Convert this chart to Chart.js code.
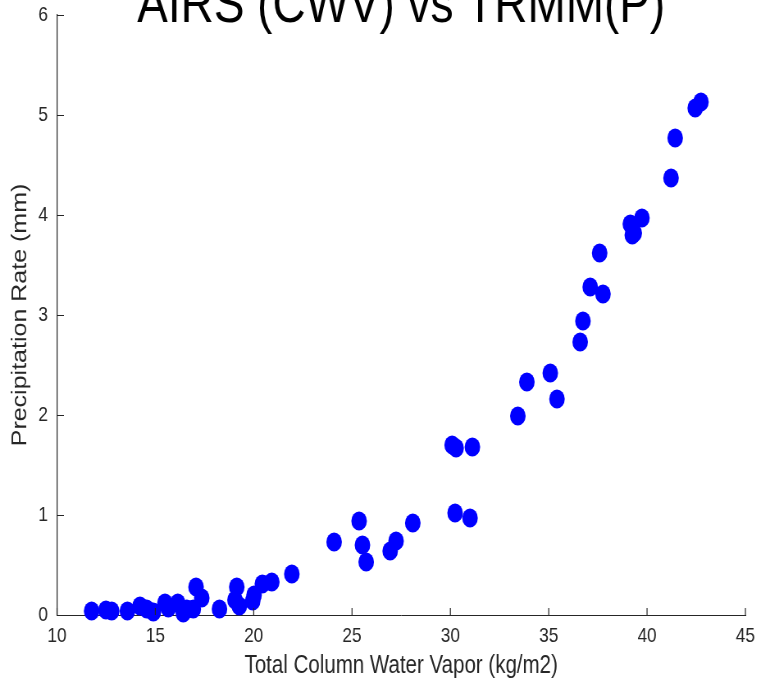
<!DOCTYPE html>
<html>
<head>
<meta charset="utf-8">
<title>AIRS (CWV) vs TRMM(P)</title>
<script src="https://cdn.jsdelivr.net/npm/chart.js@4.4.1/dist/chart.umd.min.js"></script>
<style>
    html, body { margin: 0; padding: 0; background: #fff; overflow: hidden; }
    #wrap { width: 759px; height: 681px; overflow: hidden; }
    /* the source figure was squeezed sideways, so draw wide and squeeze it the same way */
    #chart { display: block; transform: scaleX(0.82); transform-origin: 0 0; }
</style>
</head>
<body>
<div id="wrap"><canvas id="chart" width="926" height="681"></canvas></div>
<script>
// values
const cwv = [11.76, 12.49, 12.78, 13.58, 14.22, 14.56, 14.90, 15.49, 15.66, 16.14,
    16.42, 16.60, 16.93, 17.07, 17.36, 18.26, 19.05, 19.14, 19.27, 19.95,
    20.02, 20.44, 20.92, 21.94, 24.09, 25.36, 25.53, 25.72, 26.94, 27.24,
    28.09, 30.09, 30.29, 30.24, 31.00, 31.12, 33.43, 33.89, 35.08, 35.42,
    36.60, 36.74, 37.11, 37.59, 37.76, 39.15, 39.25, 39.35, 39.74, 41.22,
    41.43, 42.45, 42.74];
const precip = [0.04, 0.05, 0.04, 0.04, 0.09, 0.06, 0.03, 0.12, 0.07, 0.12,
    0.02, 0.06, 0.06, 0.28, 0.17, 0.06, 0.15, 0.28, 0.09, 0.14,
    0.20, 0.31, 0.33, 0.41, 0.73, 0.94, 0.70, 0.53, 0.64, 0.74,
    0.92, 1.70, 1.67, 1.02, 0.97, 1.68, 1.99, 2.33, 2.42, 2.16,
    2.73, 2.94, 3.28, 3.62, 3.21, 3.91, 3.80, 3.82, 3.97, 4.37,
    4.77, 5.07, 5.13];
const xTicks = [10, 15, 20, 25, 30, 35, 40, 45];
const yTicks = [0, 1, 2, 3, 4, 5, 6];
const titleText = 'AIRS (CWV) vs TRMM(P)';
const xLabel = 'Total Column Water Vapor (kg/m2)';
const yLabel = 'Precipitation Rate (mm)';

const axisColor = '#262626';
const fontFamily = '"Liberation Sans", Arial, Helvetica, sans-serif';

const points = cwv.map((x, i) => ({x: x, y: precip[i]}));

// matlab style ticks pointing into the plot + big clipped title
const matlabAxes = {
    id: 'matlabAxes',
    afterDraw(chart) {
        const {ctx, chartArea, scales} = chart;
        ctx.save();
        ctx.strokeStyle = axisColor;
        ctx.lineWidth = 1.2;
        ctx.beginPath();
        xTicks.forEach(v => {
            const px = scales.x.getPixelForValue(v);
            ctx.moveTo(px, chartArea.bottom);
            ctx.lineTo(px, chartArea.bottom - 7);
        });
        yTicks.forEach(v => {
            const py = Math.round(scales.y.getPixelForValue(v)) + 0.5;
            ctx.moveTo(chartArea.left, py);
            ctx.lineTo(chartArea.left + 8.5, py);
        });
        ctx.stroke();

        ctx.fillStyle = '#000';
        ctx.font = '56px ' + fontFamily;
        ctx.textAlign = 'center';
        ctx.textBaseline = 'alphabetic';
        ctx.fillText(titleText, (chartArea.left + chartArea.right) / 2, 22);
        ctx.restore();
    }
};

new Chart(document.getElementById('chart'), {
    type: 'scatter',
    data: {
        datasets: [{
            data: points,
            backgroundColor: '#0000ff',
            borderWidth: 0,
            pointRadius: 9.5,
            pointHoverRadius: 9.5,
            clip: false
        }]
    },
    options: {
        responsive: false,
        animation: false,
        layout: { padding: { top: 15, right: 17, left: 0, bottom: 0 } },
        plugins: {
            legend: { display: false },
            tooltip: { enabled: false },
            title: { display: false }
        },
        scales: {
            x: {
                type: 'linear',
                min: 10,
                max: 45,
                afterBuildTicks: s => { s.ticks = xTicks.map(v => ({value: v})); },
                afterFit: s => {
                    s.height = 66;
                    s.paddingLeft = 0;
                    s.paddingRight = 0;
                },
                grid: { display: false, drawTicks: false },
                border: { display: true, color: axisColor, width: 1 },
                ticks: {
                    padding: 9,
                    color: axisColor,
                    font: { family: fontFamily, size: 21 },
                    maxRotation: 0
                },
                title: {
                    display: true,
                    text: xLabel,
                    color: axisColor,
                    font: { family: fontFamily, size: 25 },
                    padding: { top: 0, bottom: 0 }
                }
            },
            y: {
                type: 'linear',
                min: 0,
                max: 6,
                afterBuildTicks: s => { s.ticks = yTicks.map(v => ({value: v})); },
                afterFit: s => {
                    s.width = 69.5;
                    s.paddingTop = 0;
                    s.paddingBottom = 0;
                },
                grid: { display: false, drawTicks: false },
                border: { display: true, color: axisColor, width: 1.2 },
                ticks: {
                    padding: 11,
                    color: axisColor,
                    font: { family: fontFamily, size: 21 }
                },
                title: {
                    display: true,
                    text: yLabel,
                    color: axisColor,
                    font: { family: fontFamily, size: 25 },
                    padding: { top: 10, bottom: 0 }
                }
            }
        }
    },
    plugins: [matlabAxes]
});
</script>
</body>
</html>
